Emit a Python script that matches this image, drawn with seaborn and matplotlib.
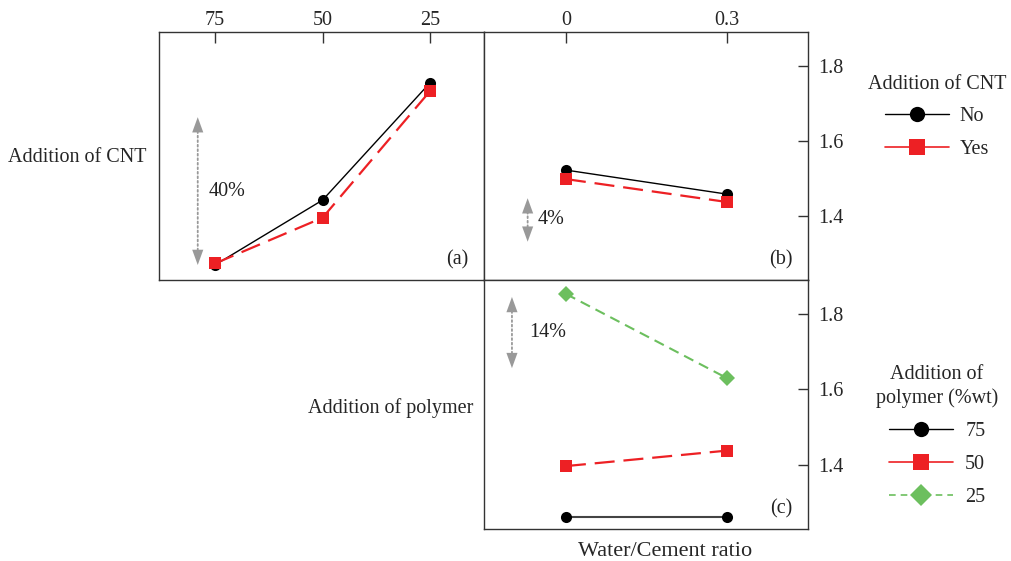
import matplotlib
matplotlib.use("Agg")
import matplotlib.pyplot as plt
from matplotlib.lines import Line2D
import seaborn as sns
import pandas as pd

sns.set_theme(style="white")
plt.rcParams['font.family'] = ['Liberation Serif', 'DejaVu Serif']

# ---------------- data ----------------
polymer_ticks = ['75', '50', '25']
polymer_pos = [1, 2, 3]
wc_values = [0.0, 0.3]
wc_ticks = ['0', '0.3']
cnt_levels = ['No', 'Yes']

a_no = [1.269, 1.442, 1.755]
a_yes = [1.273, 1.395, 1.733]
b_no = [1.522, 1.458]
b_yes = [1.498, 1.437]
c_75 = [1.261, 1.261]
c_50 = [1.396, 1.437]
c_25 = [1.853, 1.630]
polymer_levels = ['75', '50', '25']

RED = '#ED2024'
GREEN = '#6CBF5E'
GRAY = '#999999'
FS = 14.5

dfa = pd.DataFrame({'x': polymer_pos * 2, 'y': a_no + a_yes,
                    'cnt': ['No'] * 3 + ['Yes'] * 3})
dfb = pd.DataFrame({'x': wc_values * 2, 'y': b_no + b_yes,
                    'cnt': ['No'] * 2 + ['Yes'] * 2})
dfc = pd.DataFrame({'x': wc_values * 3, 'y': c_75 + c_50 + c_25,
                    'pol': ['75'] * 2 + ['50'] * 2 + ['25'] * 2})

W, H = 1012, 561
fig = plt.figure(figsize=(W / 100, H / 100), dpi=100)


def box(l, t, r, b):
    return [l / W, 1 - b / H, (r - l) / W, (b - t) / H]


axa = fig.add_axes(box(159, 32, 484, 280))
axb = fig.add_axes(box(484, 32, 808, 280))
axc = fig.add_axes(box(484, 280, 808, 529))

ylim = (1.229, 1.89)

cnt_pal = {'No': 'black', 'Yes': RED}
cnt_mk = {'No': 'o', 'Yes': 's'}
cnt_dash = {'No': '', 'Yes': (9, 4)}

for ax, df in [(axa, dfa), (axb, dfb)]:
    sns.lineplot(data=df, x='x', y='y', hue='cnt', style='cnt',
                 hue_order=cnt_levels, style_order=cnt_levels,
                 palette=cnt_pal, markers=cnt_mk, dashes=cnt_dash,
                 markersize=8, markeredgewidth=0, legend=False, ax=ax)
    for ln, lw in zip(ax.lines, [1.0, 1.6]):
        ln.set_linewidth(lw)

pol_pal = {'75': 'black', '50': RED, '25': GREEN}
pol_mk = {'75': 'o', '50': 's', '25': 'D'}
pol_dash = {'75': '', '50': (9, 4), '25': (5, 3)}
sns.lineplot(data=dfc, x='x', y='y', hue='pol', style='pol',
             hue_order=polymer_levels, style_order=polymer_levels,
             palette=pol_pal, markers=pol_mk, dashes=pol_dash,
             markersize=8, markeredgewidth=0, legend=False, ax=axc)
for ln, lw in zip(axc.lines, [1.5, 1.6, 1.5]):
    ln.set_linewidth(lw)
axc.lines[0].set_color('#444444')
axc.lines[0].set_markerfacecolor('black')

# axes formatting
for ax in (axa, axb, axc):
    ax.set_ylim(*ylim)
    ax.set_xlabel('')
    ax.set_ylabel('')
    for s in ax.spines.values():
        s.set_color('#333333')
        s.set_linewidth(1.0)
        s.set_visible(True)

axa.set_xlim(0.48, 3.5)
axa.set_xticks(polymer_pos)
axa.set_xticklabels(polymer_ticks)
axa.xaxis.tick_top()
axa.set_yticks([])
axa.tick_params(axis='x', direction='in', length=8, width=1, color='#333333',
                labelsize=FS, pad=1.5, top=True, bottom=False)

for ax in (axb, axc):
    ax.set_xlim(-0.153, 0.452)
    ax.set_yticks([1.4, 1.6, 1.8])
    ax.set_yticklabels(['1.4', '1.6', '1.8'])
    ax.yaxis.tick_right()
    ax.tick_params(axis='y', direction='in', length=7, width=1, color='#333333',
                   labelsize=FS, pad=7, right=True, left=False)

axb.set_xticks(wc_values)
axb.set_xticklabels(wc_ticks)
axb.xaxis.tick_top()
axb.tick_params(axis='x', direction='in', length=8, width=1, color='#333333',
                labelsize=FS, pad=1.5, top=True, bottom=False)
axc.set_xticks([])


def darrow(ax, x, y0, y1):
    # dotted shaft
    ax.annotate('', xy=(x, y1), xytext=(x, y0),
                arrowprops=dict(arrowstyle='-', color=GRAY, lw=1.3,
                                ls=(0, (1, 1.5)), shrinkA=4, shrinkB=4))
    # solid filled heads at both ends
    for yy, off in [(y1, -11), (y0, 11)]:
        ax.annotate('', xy=(x, yy), xytext=(0, off), textcoords='offset points',
                    arrowprops=dict(arrowstyle='-|>,head_length=0.55,head_width=0.2',
                                    color=GRAY, lw=0, mutation_scale=20,
                                    shrinkA=0, shrinkB=0))


darrow(axa, 0.84, 1.269, 1.663)
axa.text(0.944, 1.464, '40%', fontsize=FS, ha='left', va='center', color='#222222')
darrow(axb, -0.0715, 1.331, 1.447)
axb.text(-0.052, 1.389, '4%', fontsize=FS, ha='left', va='center', color='#222222')
darrow(axc, -0.1008, 1.656, 1.845)
axc.text(-0.069, 1.751, '14%', fontsize=FS, ha='left', va='center', color='#222222')

for ax, lab in [(axa, '(a)'), (axb, '(b)'), (axc, '(c)')]:
    ax.text(0.953, 0.08, lab, transform=ax.transAxes, fontsize=FS,
            ha='right', va='center', color='#222222')

# strip / axis labels
fig.text(8 / W, 1 - 158 / H, 'Addition of CNT', fontsize=FS, ha='left', va='center')
fig.text(473 / W, 1 - 408 / H, 'Addition of polymer', fontsize=FS, ha='right', va='center')
fig.text(665 / W, 1 - 551 / H, 'Water/Cement ratio', fontsize=16, ha='center', va='center')

# legends
h_cnt = [Line2D([], [], color='black', lw=1.0, marker='o', ms=11, mew=0),
         Line2D([], [], color=RED, lw=1.2, marker='s', ms=11, mew=0)]
leg1 = fig.legend(h_cnt, cnt_levels, title='Addition of CNT', loc='center',
                  bbox_to_anchor=(937 / W, 1 - 117 / H), frameon=False,
                  fontsize=FS, title_fontsize=FS, handlelength=3.2,
                  handletextpad=0.5, labelspacing=0.68)

h_pol = [Line2D([], [], color='black', lw=1.0, marker='o', ms=11, mew=0),
         Line2D([], [], color=RED, lw=1.2, marker='s', ms=11, mew=0),
         Line2D([], [], color=GREEN, lw=1.2, ls=(0, (4, 3)), marker='D', ms=11, mew=0)]
leg2 = fig.legend(h_pol, polymer_levels, title='Addition of\npolymer (%wt)', loc='center',
                  bbox_to_anchor=(937 / W, 1 - 436 / H), frameon=False,
                  fontsize=FS, title_fontsize=FS, handlelength=3.2,
                  handletextpad=0.6, labelspacing=0.68)
leg2.get_title().set_multialignment('center')
leg2.get_title().set_linespacing(1.3)

fig.savefig('out.png', dpi=100)
